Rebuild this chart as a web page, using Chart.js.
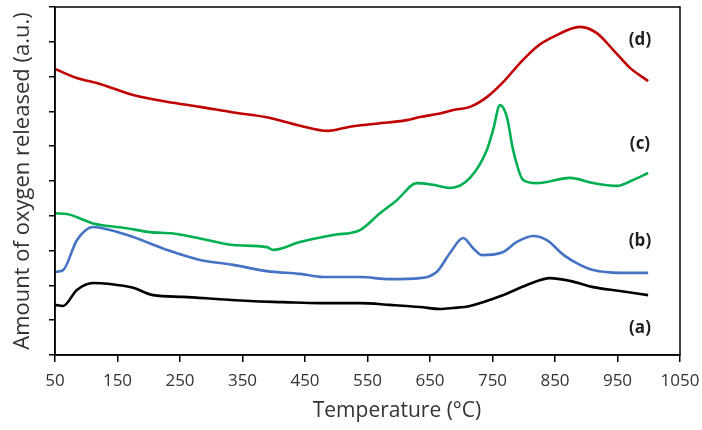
<!DOCTYPE html>
<html>
<head>
<meta charset="utf-8">
<script src="https://cdn.jsdelivr.net/npm/chart.js@4.4.0/dist/chart.umd.min.js"></script>
<style>
  html, body { margin: 0; padding: 0; background: #fff; overflow: hidden; }
  #wrap { width: 702px; height: 430px; }
</style>
</head>
<body>
<div id="wrap"><canvas id="tpd"></canvas></div>
<script>
// temperature (°C) and signal (a.u.), one pair per curve
const tempA = [50, 63, 85, 111, 138, 175, 207, 255, 309, 362, 415, 474, 538, 586, 634, 666, 687, 714, 767, 805, 842, 874, 911, 954, 999];
const sigA  = [1.44, 1.41, 1.87, 2.07, 2.04, 1.93, 1.72, 1.67, 1.61, 1.55, 1.52, 1.49, 1.49, 1.44, 1.38, 1.32, 1.35, 1.41, 1.72, 2.01, 2.21, 2.13, 1.95, 1.84, 1.72];

const tempB = [50, 63, 85, 111, 138, 175, 229, 282, 335, 389, 442, 479, 538, 586, 634, 661, 682, 703, 719, 733, 767, 789, 815, 837, 864, 890, 911, 954, 999];
const sigB  = [2.39, 2.44, 3.30, 3.68, 3.59, 3.39, 3.02, 2.73, 2.59, 2.41, 2.33, 2.24, 2.24, 2.18, 2.21, 2.39, 2.93, 3.36, 3.07, 2.87, 2.96, 3.25, 3.42, 3.30, 2.87, 2.59, 2.44, 2.36, 2.36];

const tempC = [50, 69, 111, 165, 202, 239, 282, 335, 389, 399, 442, 495, 538, 570, 597, 629, 655, 682, 714, 741, 751, 762, 773, 783, 799, 821, 874, 911, 949, 975, 999];
const sigC  = [4.07, 4.05, 3.78, 3.64, 3.53, 3.49, 3.35, 3.16, 3.10, 3.02, 3.25, 3.45, 3.59, 4.07, 4.45, 4.94, 4.89, 4.80, 5.09, 5.89, 6.47, 7.18, 6.84, 5.89, 5.03, 4.94, 5.09, 4.94, 4.86, 5.03, 5.23];

const tempD = [50, 85, 122, 175, 229, 282, 335, 389, 442, 487, 522, 560, 613, 634, 666, 687, 714, 741, 767, 794, 821, 847, 890, 917, 943, 970, 999];
const sigD  = [8.22, 7.96, 7.79, 7.47, 7.28, 7.13, 6.97, 6.83, 6.59, 6.44, 6.56, 6.64, 6.75, 6.84, 6.94, 7.04, 7.13, 7.41, 7.84, 8.39, 8.86, 9.14, 9.43, 9.25, 8.77, 8.25, 7.87];

// curve tags placed at the right end
const tagText = ['(a)', '(b)', '(c)', '(d)'];
const tagTemp = [986, 986, 986, 986];
const tagSig  = [0.78, 3.27, 6.06, 9.05];

const xTicks = [50, 150, 250, 350, 450, 550, 650, 750, 850, 950, 1050];
const xTitle = 'Temperature (°C)';
const yTitle = 'Amount of oxygen released (a.u.)';

const FONT = '"Open Sans", Lato, sans-serif';
const TXT = '#333333';

function pts(t, s) { return t.map((x, i) => ({ x, y: s[i] })); }

function line(label, t, s, color) {
  return { label, data: pts(t, s), borderColor: color, backgroundColor: color,
    borderWidth: 2.6, pointRadius: 0, tension: 0.35, cubicInterpolationMode: 'monotone', fill: false };
}

// frame, axis titles and curve tags
const extras = {
  id: 'extras',
  afterDatasetsDraw(chart) {
    const { ctx, chartArea: a, scales: { x, y } } = chart;
    ctx.save();
    ctx.strokeStyle = '#000';
    ctx.lineWidth = 1.5;
    ctx.strokeRect(a.left, a.top, a.right - a.left, a.bottom - a.top);

    ctx.textAlign = 'center';
    ctx.textBaseline = 'middle';
    ctx.fillStyle = '#1f1f1f';
    ctx.font = 'bold 17px ' + FONT;
    tagText.forEach((t, i) => ctx.fillText(t, x.getPixelForValue(tagTemp[i]), y.getPixelForValue(tagSig[i])));

    ctx.fillStyle = TXT;
    ctx.font = '21px ' + FONT;
    ctx.fillText(xTitle, 397, 411);
    ctx.translate(23, (a.top + a.bottom) / 2);
    ctx.rotate(-Math.PI / 2);
    ctx.font = '22px ' + FONT;
    ctx.fillText(yTitle, 0, 0);
    ctx.restore();
  }
};

new Chart(document.getElementById('tpd'), {
  type: 'line',
  data: {
    datasets: [
      line('a', tempA, sigA, '#000000'),
      line('b', tempB, sigB, '#4472C4'),
      line('c', tempC, sigC, '#00B050'),
      line('d', tempD, sigD, '#C00000'),
    ]
  },
  options: {
    responsive: true, maintainAspectRatio: false, animation: false,
    layout: { padding: { top: 7, right: 22, left: 0, bottom: 0 } },
    plugins: { legend: { display: false }, tooltip: { enabled: false } },
    scales: {
      x: {
        type: 'linear', min: 50, max: 1050,
        afterBuildTicks: ax => { ax.ticks = xTicks.map(v => ({ value: v })); },
        afterFit: ax => { ax.height = 75; ax.paddingLeft = 0; ax.paddingRight = 0; },
        grid: { drawOnChartArea: false, drawTicks: true, tickLength: 7, color: '#000', lineWidth: 1.5 },
        border: { color: '#000', width: 1.5 },
        ticks: { color: TXT, font: { family: FONT, size: 17 }, padding: 9, maxRotation: 0, autoSkip: false, callback: v => String(v) }
      },
      y: {
        min: 0, max: 10,
        afterFit: ax => { ax.width = 55; ax.paddingTop = 0; ax.paddingBottom = 0; },
        grid: { drawOnChartArea: false, drawTicks: true, tickLength: 6, color: '#000', lineWidth: 1.5 },
        border: { color: '#000', width: 1.5 },
        ticks: { stepSize: 1, callback: () => '', padding: 0 }
      }
    }
  },
  plugins: [extras]
});
</script>
</body>
</html>
